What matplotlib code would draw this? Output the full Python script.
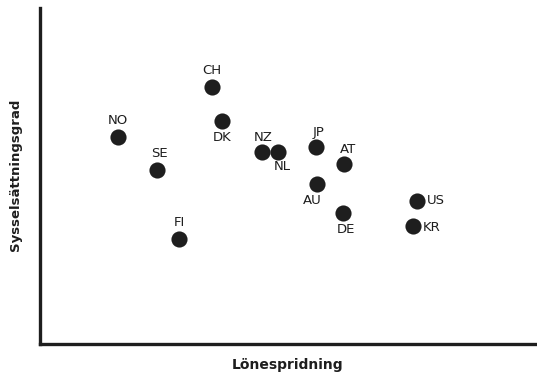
import matplotlib.pyplot as plt

# data (arbitrary units 0-100)
countries = ['NO', 'SE', 'FI', 'CH', 'DK', 'NZ', 'NL', 'JP', 'AT', 'AU', 'DE', 'US', 'KR']
lonespridning = [15.7, 23.5, 28.0, 34.6, 36.6, 44.7, 47.9, 55.5, 61.2, 55.7, 61.0, 75.9, 75.1]
syssels = [61.6, 51.8, 31.3, 76.5, 66.4, 57.1, 57.1, 58.6, 53.6, 47.6, 39.0, 42.6, 35.1]

# label placement: offset in points and alignment
offsets = {
    'NO': (0, 7, 'center', 'bottom'),
    'SE': (2, 7, 'center', 'bottom'),
    'FI': (0, 7, 'center', 'bottom'),
    'CH': (0, 7, 'center', 'bottom'),
    'DK': (0, -7, 'center', 'top'),
    'NZ': (1, 6, 'center', 'bottom'),
    'NL': (3, -6, 'center', 'top'),
    'JP': (2, 6, 'center', 'bottom'),
    'AT': (3, 6, 'center', 'bottom'),
    'AU': (-3, -7, 'center', 'top'),
    'DE': (2, -7, 'center', 'top'),
    'US': (7, 0, 'left', 'center'),
    'KR': (7, -1, 'left', 'center'),
}

ink = '#1e1e1e'

fig = plt.figure(figsize=(5.37, 3.75), dpi=100)
ax = fig.add_axes([40 / 537, 31 / 375, 497 / 537, 336 / 375])

ax.scatter(lonespridning, syssels, s=135, color=ink, zorder=3, linewidths=0)

for c, x, y in zip(countries, lonespridning, syssels):
    dx, dy, ha, va = offsets[c]
    ax.annotate(c, (x, y), xytext=(dx, dy), textcoords='offset points',
                ha=ha, va=va, fontsize=9.5, color=ink)

ax.set_xlim(0, 100)
ax.set_ylim(0, 100)
ax.set_xticks([])
ax.set_yticks([])
for side in ['top', 'right']:
    ax.spines[side].set_visible(False)
for side in ['left', 'bottom']:
    ax.spines[side].set_linewidth(2.4)
    ax.spines[side].set_color(ink)
    ax.spines[side].set_capstyle('projecting')

fig.text(16 / 537, 1 - 175 / 375, 'Sysselsättningsgrad', rotation=90,
         ha='center', va='center', fontsize=9.5, fontweight='bold', color=ink)
fig.text(288 / 537, 1 - 365 / 375, 'Lönespridning',
         ha='center', va='center', fontsize=10, fontweight='bold', color=ink)

fig.savefig('out.png', dpi=100)
